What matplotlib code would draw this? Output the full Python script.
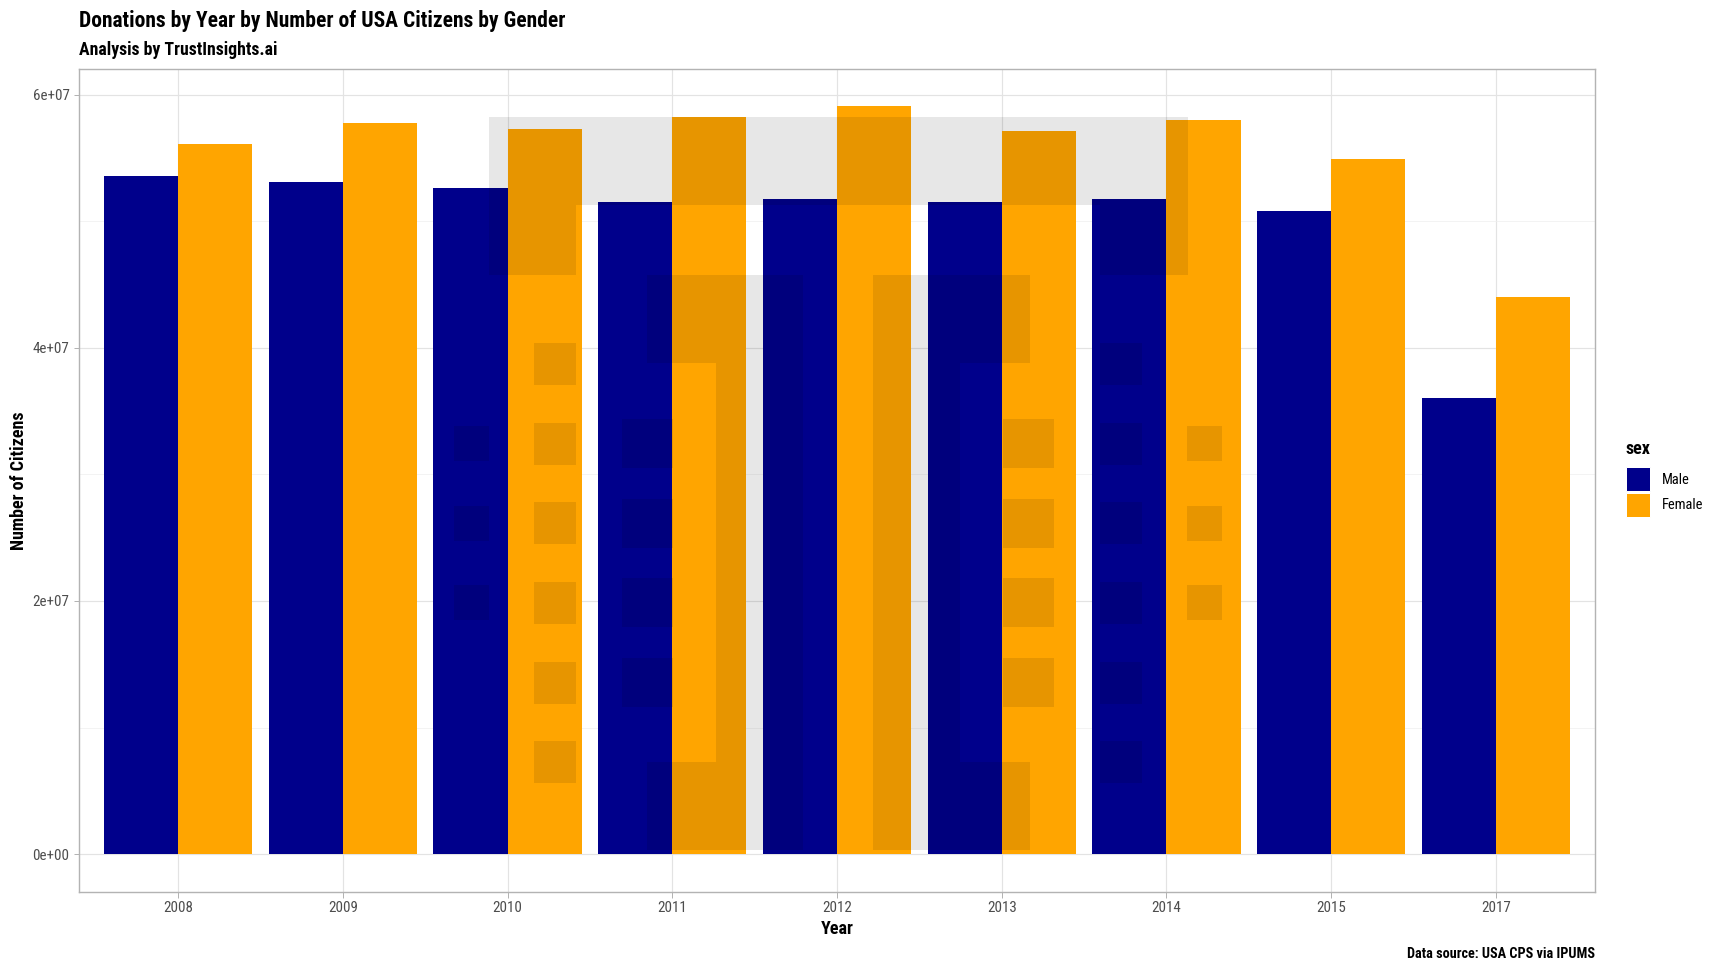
import matplotlib
matplotlib.use('Agg')
import matplotlib.pyplot as plt
import numpy as np
from matplotlib import font_manager
from matplotlib.patches import Patch, Polygon, Rectangle
import matplotlib.transforms as mtransforms

years = ['2008', '2009', '2010', '2011', '2012', '2013', '2014', '2015', '2017']
male = [5.36e7, 5.31e7, 5.26e7, 5.15e7, 5.175e7, 5.15e7, 5.175e7, 5.08e7, 3.605e7]
female = [5.61e7, 5.777e7, 5.726e7, 5.826e7, 5.907e7, 5.71e7, 5.798e7, 5.49e7, 4.404e7]
sexes = ['Male', 'Female']
colors = {'Male': '#00008B', 'Female': '#FFA500'}


def pick_font(cands):
    names = {f.name for f in font_manager.fontManager.ttflist}
    for c in cands:
        if c in names:
            return c
    return 'DejaVu Sans'


font = pick_font(['Roboto Condensed', 'Liberation Sans Narrow', 'Open Sans Condensed', 'Roboto'])
plt.rcParams['font.family'] = [font, 'DejaVu Sans']

fig = plt.figure(figsize=(12, 6.75), dpi=144)
W, H = 1728, 972
pl, pr, pt, pb = 79.3, 1594.7, 69.0, 891.5
ax = fig.add_axes([pl / W, 1 - pb / H, (pr - pl) / W, (pb - pt) / H])

x = np.arange(len(years))
bw = 0.45
ax.bar(x - bw / 2, male, width=bw, color=colors['Male'], zorder=2, linewidth=0)
ax.bar(x + bw / 2, female, width=bw, color=colors['Female'], zorder=2, linewidth=0)

top = max(max(male), max(female))
ax.set_ylim(-0.05 * top, 1.05 * top)
ax.set_xlim(-0.6, len(years) - 0.4)

yt = [0, 2e7, 4e7, 6e7]
ax.set_yticks(yt)
ax.set_yticklabels([f'{v:.0e}' for v in yt])
ax.set_yticks([1e7, 3e7, 5e7], minor=True)
ax.set_xticks(x)
ax.set_xticklabels(years)

ax.grid(which='major', color='#e3e3e3', linewidth=0.6, zorder=0)
ax.grid(which='minor', axis='y', color='#eeeeee', linewidth=0.35, zorder=0)
ax.set_axisbelow(True)
for s in ax.spines.values():
    s.set_color('#b3b3b3')
    s.set_linewidth(0.7)
ax.tick_params(which='major', length=2.75, width=0.5, color='#b3b3b3',
               labelsize=7.5, labelcolor='#4d4d4d', pad=2.2)
ax.tick_params(which='minor', length=0)

ax.set_xlabel('Year', fontsize=9, fontweight='bold', labelpad=2.5)
ax.set_ylabel('Number of Citizens', fontsize=9, fontweight='bold', labelpad=2)

# watermark logo (semi-transparent grey shapes), pixel units around its centre, y down
cx, cy = (838 - pl) / (pr - pl), 1 - (483.7 - pt) / (pb - pt)
logo_tr = mtransforms.Affine2D().scale(1 / (pr - pl), -1 / (pb - pt)).translate(cx, cy) + ax.transAxes
wm = dict(facecolor='black', alpha=0.095, linewidth=0, zorder=3, transform=logo_tr)

top_shape = [(-349.5, -366.4), (349.5, -366.4), (349.5, -209), (262, -209), (262, -278.7),
             (-262, -278.7), (-262, -209), (-349.5, -209)]
left_br = [(-191.5, -209), (-35, -209), (-35, 366.3), (-191.5, 366.3), (-191.5, 278.6),
           (-122, 278.6), (-122, -121), (-191.5, -121)]
right_br = [(-px, py) for px, py in left_br]
for shp in (top_shape, left_br, right_br):
    ax.add_patch(Polygon(shp, closed=True, **wm))

cols = [(-384, 35, 35, [-40.2, 39.5, 119.1]),
        (-304, 42, 42, [-119.7, -40.2, 39.3, 119.3, 198.8, 278.3]),
        (-216, 51, 49, [-40.2, 39.8, 119.1, 198.8])]
for x0, w, h, centres in cols:
    for c in centres:
        ax.add_patch(Rectangle((x0, c - h / 2), w, h, **wm))
        ax.add_patch(Rectangle((-x0 - w, c - h / 2), w, h, **wm))

fig.text(pl / W, 1 - 26.7 / H, 'Donations by Year by Number of USA Citizens by Gender',
         fontsize=10.75, fontweight='bold', va='baseline', ha='left')
fig.text(pl / W, 1 - 55 / H, 'Analysis by TrustInsights.ai',
         fontsize=8.9, fontweight='bold', va='baseline', ha='left')
fig.text(pr / W, 1 - 958 / H, 'Data source: USA CPS via IPUMS',
         fontsize=7.15, fontweight='bold', va='baseline', ha='right')

handles = [Patch(facecolor=colors[s], edgecolor='white', linewidth=0.5) for s in sexes]
leg = fig.legend(handles, sexes, title='sex', loc='upper left',
                 bbox_to_anchor=(1626 / W, 1 - 440 / H), frameon=False,
                 fontsize=7.2, title_fontsize=9, handlelength=1.65, handleheight=2.2,
                 labelspacing=0.1, handletextpad=0.85, borderpad=0, borderaxespad=0,
                 alignment='left')
leg.get_title().set_fontweight('bold')
leg._legend_box.sep = 4.6  # gap between legend title and keys

fig.savefig('out.png', dpi=144)
